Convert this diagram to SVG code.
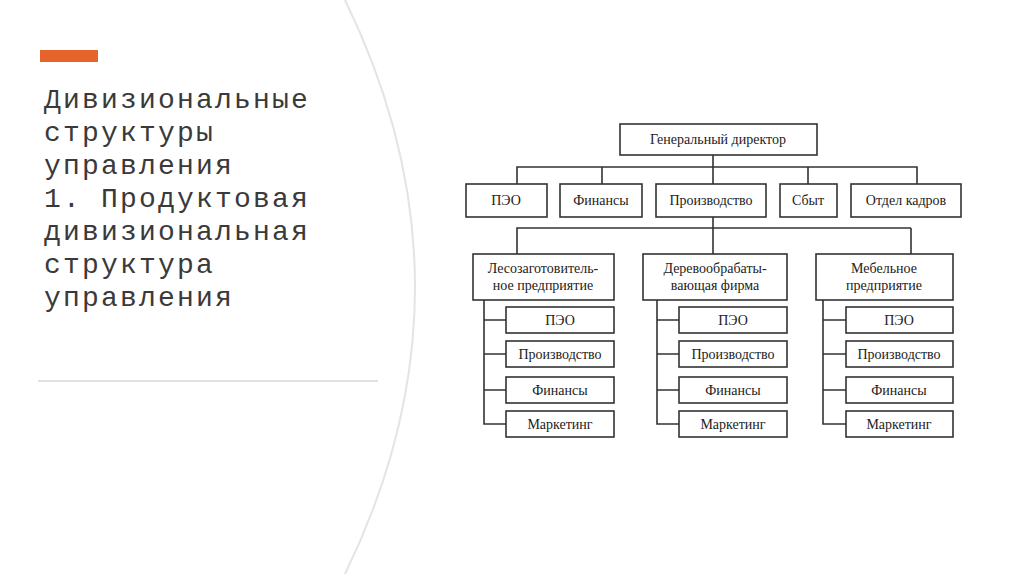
<svg xmlns="http://www.w3.org/2000/svg" width="1024" height="574" viewBox="0 0 1024 574">
<style>
.b{fill:#fff;stroke:#333;stroke-width:1.6}
.t{font-family:"Liberation Serif",serif;font-size:14px;fill:#222;text-anchor:middle}
.c{fill:none;stroke:#333;stroke-width:1.6}
.h{font-family:"Liberation Mono",monospace;font-size:28px;letter-spacing:2.2px;fill:#3a3a3a}
</style>
<rect width="1024" height="574" fill="#fff"/>
<path d="M345 0 Q485 287 345 574" fill="none" stroke="#e4e4e4" stroke-width="2"/>
<rect x="40" y="50" width="58" height="12" fill="#e5642b"/>
<text class="h"><tspan x="44" y="108">Дивизиональные</tspan><tspan x="44" y="141">структуры</tspan><tspan x="44" y="174">управления</tspan><tspan x="44" y="207">1. Продуктовая</tspan><tspan x="44" y="240">дивизиональная</tspan><tspan x="44" y="273">структура</tspan><tspan x="44" y="306">управления</tspan></text>
<line x1="38" y1="381" x2="378" y2="381" stroke="#d8d8d8" stroke-width="1.5"/>
<g id="connectors">
<path class="c" d="M713 155V184M517 184V167H917V184M602 167V184M808 167V184"/>
<path class="c" d="M713 217V254M517 254V228H911V228M911 228V254"/>
<path class="c" d="M484 300V424H506M484 320H506M484 354H506M484 390H506"/>
<path class="c" d="M657 300V424H679M657 320H679M657 354H679M657 390H679"/>
<path class="c" d="M823 300V424H846M823 320H846M823 354H846M823 390H846"/>
</g>
<g id="gd"><rect class="b" x="620" y="124" width="197" height="31"/><text class="t" x="718" y="144">Генеральный директор</text></g>
<g id="peo"><rect class="b" x="466" y="184" width="81" height="33"/><text class="t" x="506" y="205">ПЭО</text></g>
<g id="fin"><rect class="b" x="560" y="184" width="82" height="33"/><text class="t" x="601" y="205">Финансы</text></g>
<g id="prod"><rect class="b" x="656" y="184" width="110" height="33"/><text class="t" x="711" y="205">Производство</text></g>
<g id="sbyt"><rect class="b" x="780" y="184" width="57" height="33"/><text class="t" x="808" y="205">Сбыт</text></g>
<g id="kadr"><rect class="b" x="851" y="184" width="110" height="33"/><text class="t" x="906" y="205">Отдел кадров</text></g>
<g id="d1"><rect class="b" x="473" y="254" width="141" height="46"/><text class="t" x="543" y="273">Лесозаготовитель-</text><text class="t" x="543" y="290">ное предприятие</text></g>
<g id="d2"><rect class="b" x="643" y="254" width="144" height="46"/><text class="t" x="715" y="273">Деревообрабаты-</text><text class="t" x="715" y="290">вающая фирма</text></g>
<g id="d3"><rect class="b" x="816" y="254" width="137" height="46"/><text class="t" x="884" y="273">Мебельное</text><text class="t" x="884" y="290">предприятие</text></g>
<g id="s1"><rect class="b" x="506" y="307" width="108" height="26"/><text class="t" x="560" y="325">ПЭО</text><rect class="b" x="506" y="341" width="108" height="26"/><text class="t" x="560" y="359">Производство</text><rect class="b" x="506" y="377" width="108" height="26"/><text class="t" x="560" y="395">Финансы</text><rect class="b" x="506" y="411" width="108" height="26"/><text class="t" x="560" y="429">Маркетинг</text></g>
<g id="s2"><rect class="b" x="679" y="307" width="108" height="26"/><text class="t" x="733" y="325">ПЭО</text><rect class="b" x="679" y="341" width="108" height="26"/><text class="t" x="733" y="359">Производство</text><rect class="b" x="679" y="377" width="108" height="26"/><text class="t" x="733" y="395">Финансы</text><rect class="b" x="679" y="411" width="108" height="26"/><text class="t" x="733" y="429">Маркетинг</text></g>
<g id="s3"><rect class="b" x="846" y="307" width="107" height="26"/><text class="t" x="899" y="325">ПЭО</text><rect class="b" x="846" y="341" width="107" height="26"/><text class="t" x="899" y="359">Производство</text><rect class="b" x="846" y="377" width="107" height="26"/><text class="t" x="899" y="395">Финансы</text><rect class="b" x="846" y="411" width="107" height="26"/><text class="t" x="899" y="429">Маркетинг</text></g>
</svg>
